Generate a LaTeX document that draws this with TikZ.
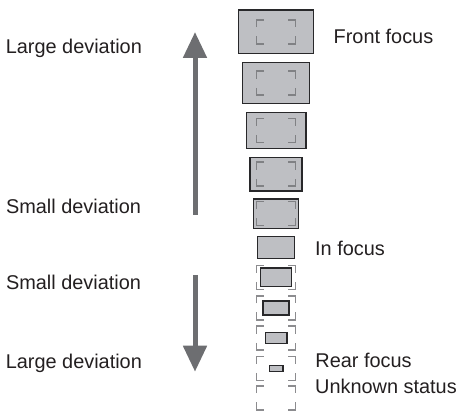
\documentclass[tikz,border=0pt]{standalone}
\usepackage{fontspec}
\setmainfont{Liberation Sans}
\usepackage{tikz}
\usetikzlibrary{arrows.meta,positioning}
\definecolor{lensFill}{RGB}{190,191,195}
\definecolor{lensBorder}{RGB}{40,40,42}
\definecolor{arrowGray}{RGB}{109,110,113}
\definecolor{frameGray}{RGB}{128,129,132}
\definecolor{frameLight}{RGB}{140,140,143}
\definecolor{labelDark}{RGB}{35,31,32}
\tikzset{
  lensbox/.style={
    rectangle, draw=lensBorder, line width=1.4pt, fill=lensFill,
    inner sep=0pt
  },
  focuslabel/.style={
    anchor=base west, inner sep=0pt, text=labelDark,
    font=\fontsize{19.9}{23}\selectfont
  },
  devArrow/.style={
    line width=5pt, color=arrowGray,
    -{Triangle[width=23pt,length=26pt]}
  },
  pics/focusframe/.style={
    code={
      \draw[#1, line width=1.5pt]
        (-19.4,-4.6) -- (-19.4,-12) -- (-12.4,-12)
        (12.4,-12) -- (19.4,-12) -- (19.4,-4.6)
        (-19.4,4.6) -- (-19.4,12) -- (-12.4,12)
        (12.4,12) -- (19.4,12) -- (19.4,4.6);
    }
  }
}
\begin{document}
\begin{tikzpicture}[x=1pt, y=-1pt]
  \useasboundingbox (0,0) rectangle (459,411);

  % lens boxes, front focus down to rear focus
  \node[lensbox, minimum width=74.6pt, minimum height=43.6pt] (b1) at (276,31.8) {};
  \node[lensbox, minimum width=67.2pt, minimum height=40.9pt] (b2) at (276,83.2) {};
  \node[lensbox, minimum width=59.6pt, minimum height=35.9pt] (b3) at (276,130.3) {};
  \node[lensbox, minimum width=52pt,   minimum height=33.6pt] (b4) at (276,174.2) {};
  \node[lensbox, minimum width=44.9pt, minimum height=29.3pt] (b5) at (276,213.7) {};
  \node[lensbox, minimum width=37.2pt, minimum height=21.9pt] (b6) at (276,247.7) {};
  \node[lensbox, minimum width=30.6pt, minimum height=18.6pt] (b7) at (276,277.4) {};
  \node[lensbox, minimum width=26.3pt, minimum height=13.9pt] (b8) at (276,307.9) {};
  \node[lensbox, minimum width=21.6pt, minimum height=10.9pt] (b9) at (276,338.2) {};
  \node[lensbox, minimum width=13.6pt, minimum height=6.2pt]  (b10) at (276,368.4) {};

  % focus frames
  \pic at (b1.center) {focusframe=frameGray};
  \pic at (b2.center) {focusframe=frameGray};
  \pic at (b3.center) {focusframe=frameGray};
  \pic at (b4.center) {focusframe=frameGray};
  \pic at (b5.center) {focusframe=frameGray};
  \pic at (b7.center) {focusframe=frameLight};
  \pic at (b8.center) {focusframe=frameLight};
  \pic at (b9.center) {focusframe=frameLight};
  \pic at (b10.center) {focusframe=frameLight};
  \coordinate (b11) at (276,397.8);
  \pic at (b11) {focusframe=frameLight};

  % deviation arrows
  \coordinate (upTail) at (195,215);
  \coordinate (upTip) at (195,32);
  \coordinate (downTail) at (195,275);
  \coordinate (downTip) at (195,371.7);
  \draw[devArrow] (upTail) -- (upTip);
  \draw[devArrow] (downTail) -- (downTip);

  % labels
  \node[focuslabel] (largeTop) at (5.6,53.3) {Large deviation};
  \node[focuslabel] (smallTop) at (5.8,214) {Small deviation};
  \node[focuslabel] (smallBot) at (5.8,290) {Small deviation};
  \node[focuslabel] (largeBot) at (5.6,368.3) {Large deviation};
  \node[focuslabel] (front) at (333.5,43.3) {Front focus};
  \node[focuslabel] (infocus) at (315,256) {In focus};
  \node[focuslabel] (rear) at (315.2,367.3) {Rear focus};
  \node[focuslabel] (unknown) at (315,393.3) {Unknown status};
\end{tikzpicture}
\end{document}
